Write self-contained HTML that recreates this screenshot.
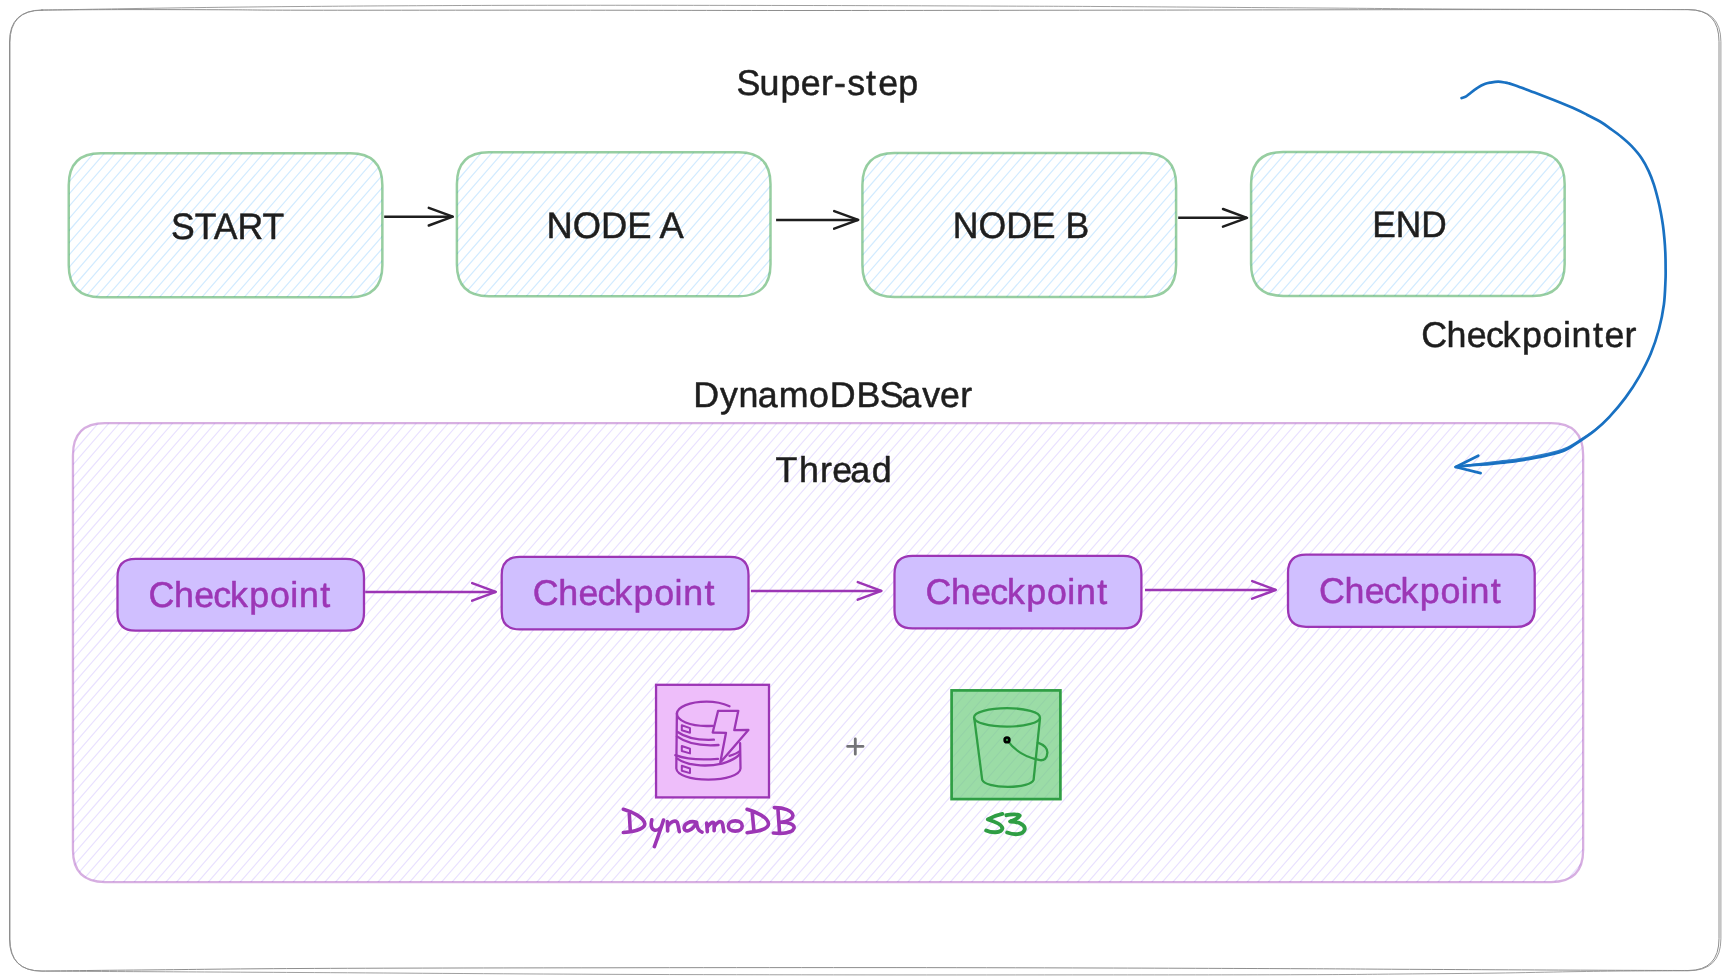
<!DOCTYPE html>
<html><head><meta charset="utf-8"><title>DynamoDBSaver checkpointer diagram</title>
<style>
html,body{margin:0;padding:0;background:#fff;}
body{width:1729px;height:980px;overflow:hidden;}
svg{display:block;will-change:transform;}
text{font-family:"Liberation Sans",sans-serif;stroke-width:0.5px;stroke-linejoin:round;text-rendering:geometricPrecision;}
</style></head><body>
<svg width="1729" height="980" viewBox="0 0 1729 980">

<rect width="1729" height="980" fill="#ffffff"/>

<g fill="none" stroke="#8e8e8e" stroke-width="1" stroke-linecap="round">
<path d="M42 10.0 C56.7 9.9 98.7 9.6 130.0 9.6 C161.3 9.6 201.7 9.7 230.0 9.8 C258.3 9.9 245.0 10.1 300.0 10.2 C355.0 10.3 476.7 10.1 560.0 10.2 C643.3 10.2 710.0 10.5 800.0 10.5 C890.0 10.5 989.3 10.3 1100.0 10.2 C1210.7 10.0 1366.0 9.7 1464.0 9.6 C1562.0 9.5 1650.7 9.6 1688.0 9.6 Q1719.0 9.6 1719.0 41.6 L1719.0 938.5 Q1719.0 970.5 1688 970.5 C1671.7 970.5 1638.0 970.4 1590.0 970.2 C1542.0 970.0 1448.3 969.5 1400.0 969.3 C1351.7 969.0 1350.0 968.9 1300.0 968.7 C1250.0 968.5 1172.5 968.2 1100.0 968.0 C1027.5 967.8 948.3 967.6 865.0 967.6 C781.7 967.6 694.2 967.6 600.0 967.8 C505.8 967.9 375.0 968.1 300.0 968.5 C225.0 968.9 193.0 969.5 150.0 969.9 C107.0 970.3 60.0 970.8 42.0 971.0 Q9.5 971.0 9.5 939.0 L9.5 42.0 Q9.5 10.0 42 10.0 Z"/>
<path d="M42 10.2 C56.7 9.9 98.7 9.1 130.0 8.6 C161.3 8.1 201.7 7.5 230.0 7.2 C258.3 6.9 271.7 6.7 300.0 6.5 C328.3 6.3 356.7 6.0 400.0 5.8 C443.3 5.6 493.3 5.3 560.0 5.3 C626.7 5.2 726.7 5.4 800.0 5.5 C873.3 5.6 950.0 5.9 1000.0 6.1 C1050.0 6.3 1047.0 6.2 1100.0 6.5 C1153.0 6.8 1257.3 7.6 1318.0 8.0 C1378.7 8.4 1402.3 8.8 1464.0 9.1 C1525.7 9.4 1650.7 9.5 1688.0 9.6 Q1720.9 9.6 1720.9 41.6 L1720.9 938.8 Q1720.9 970.8 1688 970.8 C1678.0 970.8 1647.5 970.9 1628.0 971.0 C1608.5 971.1 1593.2 971.4 1571.0 971.7 C1548.8 972.1 1523.5 972.7 1495.0 973.1 C1466.5 973.5 1432.5 973.7 1400.0 974.0 C1367.5 974.3 1350.0 974.6 1300.0 974.7 C1250.0 974.9 1172.5 974.9 1100.0 974.9 C1027.5 974.9 948.3 975.0 865.0 974.9 C781.7 974.8 694.2 974.7 600.0 974.3 C505.8 973.9 375.0 972.9 300.0 972.5 C225.0 972.1 193.0 971.9 150.0 971.7 C107.0 971.5 60.0 971.3 42.0 971.2 Q10.0 971.2 10.0 939.2 L10.0 42.2 Q10.0 10.2 42 10.2 Z" opacity="0.85"/>
</g>
<clipPath id="c1"><path d="M100.75 153.25 L350.35 153.25 Q382.35 153.25 382.35 185.25 L382.35 265.25 Q382.35 297.25 350.35 297.25 L100.75 297.25 Q68.75 297.25 68.75 265.25 L68.75 185.25 Q68.75 153.25 100.75 153.25 Z"/></clipPath><path d="M68.8 157.8L72.7 153.2M68.8 170.0L83.3 153.2M68.8 182.2L93.9 153.2M68.8 194.4L104.5 153.2M68.8 206.6L115.1 153.2M68.8 218.8L125.7 153.2M68.8 231.0L136.3 153.2M68.8 243.2L146.9 153.2M68.8 255.4L157.5 153.2M68.8 267.6L168.1 153.2M68.8 279.8L178.7 153.2M68.8 292.0L189.3 153.2M74.8 297.2L199.9 153.2M85.4 297.2L210.5 153.2M96.0 297.2L221.1 153.2M106.6 297.2L231.7 153.2M117.2 297.2L242.3 153.2M127.8 297.2L252.9 153.2M138.4 297.2L263.5 153.2M149.0 297.2L274.1 153.2M159.6 297.2L284.7 153.2M170.2 297.2L295.3 153.2M180.8 297.2L305.9 153.2M191.4 297.2L316.5 153.2M202.0 297.2L327.1 153.2M212.6 297.2L337.7 153.2M223.2 297.2L348.3 153.2M233.8 297.2L358.9 153.2M244.4 297.2L369.5 153.2M255.0 297.2L380.1 153.2M265.6 297.2L382.4 162.9M276.2 297.2L382.4 175.1M286.8 297.2L382.4 187.3M297.4 297.2L382.4 199.5M308.0 297.2L382.4 211.7M318.6 297.2L382.4 223.9M329.2 297.2L382.4 236.1M339.8 297.2L382.4 248.3M350.4 297.2L382.4 260.5M361.0 297.2L382.4 272.6M371.6 297.2L382.4 284.8M382.2 297.2L382.4 297.0" clip-path="url(#c1)" fill="none" stroke="#d2ebff" stroke-width="1.25"/>
<path d="M100.75 153.25 L350.35 153.25 Q382.35 153.25 382.35 185.25 L382.35 265.25 Q382.35 297.25 350.35 297.25 L100.75 297.25 Q68.75 297.25 68.75 265.25 L68.75 185.25 Q68.75 153.25 100.75 153.25 Z" fill="none" stroke="#2f9e44" stroke-opacity="0.5" stroke-width="2.5"/>
<clipPath id="c2"><path d="M488.9 152.25 L738.5 152.25 Q770.5 152.25 770.5 184.25 L770.5 264.25 Q770.5 296.25 738.5 296.25 L488.9 296.25 Q456.9 296.25 456.9 264.25 L456.9 184.25 Q456.9 152.25 488.9 152.25 Z"/></clipPath><path d="M456.9 156.6L460.7 152.2M456.9 168.8L471.3 152.2M456.9 181.0L481.9 152.2M456.9 193.2L492.5 152.2M456.9 205.4L503.1 152.2M456.9 217.6L513.7 152.2M456.9 229.8L524.3 152.2M456.9 241.9L534.9 152.2M456.9 254.1L545.5 152.2M456.9 266.3L556.1 152.2M456.9 278.5L566.7 152.2M456.9 290.7L577.3 152.2M462.7 296.2L587.9 152.2M473.3 296.2L598.5 152.2M483.9 296.2L609.1 152.2M494.5 296.2L619.7 152.2M505.1 296.2L630.3 152.2M515.7 296.2L640.9 152.2M526.3 296.2L651.5 152.2M536.9 296.2L662.1 152.2M547.5 296.2L672.7 152.2M558.1 296.2L683.3 152.2M568.7 296.2L693.9 152.2M579.3 296.2L704.5 152.2M589.9 296.2L715.1 152.2M600.5 296.2L725.7 152.2M611.1 296.2L736.3 152.2M621.7 296.2L746.9 152.2M632.3 296.2L757.5 152.2M642.9 296.2L768.1 152.2M653.5 296.2L770.5 161.7M664.1 296.2L770.5 173.9M674.7 296.2L770.5 186.0M685.3 296.2L770.5 198.2M695.9 296.2L770.5 210.4M706.5 296.2L770.5 222.6M717.1 296.2L770.5 234.8M727.7 296.2L770.5 247.0M738.3 296.2L770.5 259.2M748.9 296.2L770.5 271.4M759.5 296.2L770.5 283.6M770.1 296.2L770.5 295.8" clip-path="url(#c2)" fill="none" stroke="#d2ebff" stroke-width="1.25"/>
<path d="M488.9 152.25 L738.5 152.25 Q770.5 152.25 770.5 184.25 L770.5 264.25 Q770.5 296.25 738.5 296.25 L488.9 296.25 Q456.9 296.25 456.9 264.25 L456.9 184.25 Q456.9 152.25 488.9 152.25 Z" fill="none" stroke="#2f9e44" stroke-opacity="0.5" stroke-width="2.5"/>
<clipPath id="c3"><path d="M894.4 152.9 L1144.1 152.9 Q1176.1 152.9 1176.1 184.9 L1176.1 264.9 Q1176.1 296.9 1144.1 296.9 L894.4 296.9 Q862.4 296.9 862.4 264.9 L862.4 184.9 Q862.4 152.9 894.4 152.9 Z"/></clipPath><path d="M862.4 157.7L866.6 152.9M862.4 169.9L877.2 152.9M862.4 182.1L887.8 152.9M862.4 194.3L898.4 152.9M862.4 206.5L909.0 152.9M862.4 218.7L919.6 152.9M862.4 230.9L930.2 152.9M862.4 243.1L940.8 152.9M862.4 255.3L951.4 152.9M862.4 267.5L962.0 152.9M862.4 279.7L972.6 152.9M862.4 291.9L983.2 152.9M868.6 296.9L993.8 152.9M879.2 296.9L1004.4 152.9M889.8 296.9L1015.0 152.9M900.4 296.9L1025.6 152.9M911.0 296.9L1036.2 152.9M921.6 296.9L1046.8 152.9M932.2 296.9L1057.4 152.9M942.8 296.9L1068.0 152.9M953.4 296.9L1078.6 152.9M964.0 296.9L1089.2 152.9M974.6 296.9L1099.8 152.9M985.2 296.9L1110.4 152.9M995.8 296.9L1121.0 152.9M1006.4 296.9L1131.6 152.9M1017.0 296.9L1142.2 152.9M1027.6 296.9L1152.8 152.9M1038.2 296.9L1163.4 152.9M1048.8 296.9L1174.0 152.9M1059.4 296.9L1176.1 162.7M1070.0 296.9L1176.1 174.9M1080.6 296.9L1176.1 187.1M1091.2 296.9L1176.1 199.2M1101.8 296.9L1176.1 211.4M1112.4 296.9L1176.1 223.6M1123.0 296.9L1176.1 235.8M1133.6 296.9L1176.1 248.0M1144.2 296.9L1176.1 260.2M1154.8 296.9L1176.1 272.4M1165.4 296.9L1176.1 284.6M1176.0 296.9L1176.1 296.8" clip-path="url(#c3)" fill="none" stroke="#d2ebff" stroke-width="1.25"/>
<path d="M894.4 152.9 L1144.1 152.9 Q1176.1 152.9 1176.1 184.9 L1176.1 264.9 Q1176.1 296.9 1144.1 296.9 L894.4 296.9 Q862.4 296.9 862.4 264.9 L862.4 184.9 Q862.4 152.9 894.4 152.9 Z" fill="none" stroke="#2f9e44" stroke-opacity="0.5" stroke-width="2.5"/>
<clipPath id="c4"><path d="M1283.1 151.9 L1532.65 151.9 Q1564.65 151.9 1564.65 183.9 L1564.65 263.9 Q1564.65 295.9 1532.65 295.9 L1283.1 295.9 Q1251.1 295.9 1251.1 263.9 L1251.1 183.9 Q1251.1 151.9 1283.1 151.9 Z"/></clipPath><path d="M1251.1 156.0L1254.7 151.9M1251.1 168.2L1265.3 151.9M1251.1 180.4L1275.9 151.9M1251.1 192.6L1286.5 151.9M1251.1 204.8L1297.1 151.9M1251.1 217.0L1307.7 151.9M1251.1 229.2L1318.3 151.9M1251.1 241.4L1328.9 151.9M1251.1 253.6L1339.5 151.9M1251.1 265.8L1350.1 151.9M1251.1 278.0L1360.7 151.9M1251.1 290.2L1371.3 151.9M1256.7 295.9L1381.9 151.9M1267.3 295.9L1392.5 151.9M1277.9 295.9L1403.1 151.9M1288.5 295.9L1413.7 151.9M1299.1 295.9L1424.3 151.9M1309.7 295.9L1434.9 151.9M1320.3 295.9L1445.5 151.9M1330.9 295.9L1456.1 151.9M1341.5 295.9L1466.7 151.9M1352.1 295.9L1477.3 151.9M1362.7 295.9L1487.9 151.9M1373.3 295.9L1498.5 151.9M1383.9 295.9L1509.1 151.9M1394.5 295.9L1519.7 151.9M1405.1 295.9L1530.3 151.9M1415.7 295.9L1540.9 151.9M1426.3 295.9L1551.5 151.9M1436.9 295.9L1562.1 151.9M1447.5 295.9L1564.7 161.2M1458.1 295.9L1564.7 173.4M1468.7 295.9L1564.7 185.6M1479.3 295.9L1564.7 197.7M1489.9 295.9L1564.7 209.9M1500.5 295.9L1564.7 222.1M1511.1 295.9L1564.7 234.3M1521.7 295.9L1564.7 246.5M1532.3 295.9L1564.7 258.7M1542.9 295.9L1564.7 270.9M1553.5 295.9L1564.7 283.1M1564.1 295.9L1564.7 295.3" clip-path="url(#c4)" fill="none" stroke="#d2ebff" stroke-width="1.25"/>
<path d="M1283.1 151.9 L1532.65 151.9 Q1564.65 151.9 1564.65 183.9 L1564.65 263.9 Q1564.65 295.9 1532.65 295.9 L1283.1 295.9 Q1251.1 295.9 1251.1 263.9 L1251.1 183.9 Q1251.1 151.9 1283.1 151.9 Z" fill="none" stroke="#2f9e44" stroke-opacity="0.5" stroke-width="2.5"/>
<g fill="none" stroke="#1e1e1e" stroke-width="2.5" stroke-linecap="round" stroke-linejoin="round"><path d="M384.2 216.7 L452.8 216.7" stroke-linecap="butt"/><path d="M428.8 207.89999999999998 L452.8 216.7 L428.8 225.5"/></g>
<g fill="none" stroke="#1e1e1e" stroke-width="2.5" stroke-linecap="round" stroke-linejoin="round"><path d="M776.1 219.9 L858.2 219.9" stroke-linecap="butt"/><path d="M834.2 211.1 L858.2 219.9 L834.2 228.70000000000002"/></g>
<g fill="none" stroke="#1e1e1e" stroke-width="2.5" stroke-linecap="round" stroke-linejoin="round"><path d="M1178.2 217.8 L1247.0 217.8" stroke-linecap="butt"/><path d="M1223.0 209.0 L1247.0 217.8 L1223.0 226.60000000000002"/></g>
<clipPath id="c5"><path d="M104.95 423.2 L1551.15 423.2 Q1583.15 423.2 1583.15 455.2 L1583.15 850.1 Q1583.15 882.1 1551.15 882.1 L104.95 882.1 Q72.95 882.1 72.95 850.1 L72.95 455.2 Q72.95 423.2 104.95 423.2 Z"/></clipPath><path d="M73.0 428.1L77.2 423.2M73.0 440.3L87.8 423.2M73.0 452.5L98.4 423.2M73.0 464.7L109.0 423.2M73.0 476.8L119.6 423.2M73.0 489.0L130.2 423.2M73.0 501.2L140.8 423.2M73.0 513.4L151.4 423.2M73.0 525.6L162.0 423.2M73.0 537.8L172.6 423.2M73.0 550.0L183.2 423.2M73.0 562.2L193.8 423.2M73.0 574.4L204.4 423.2M73.0 586.6L215.0 423.2M73.0 598.8L225.6 423.2M73.0 611.0L236.2 423.2M73.0 623.2L246.8 423.2M73.0 635.4L257.4 423.2M73.0 647.6L268.0 423.2M73.0 659.8L278.6 423.2M73.0 672.0L289.2 423.2M73.0 684.1L299.8 423.2M73.0 696.3L310.4 423.2M73.0 708.5L321.0 423.2M73.0 720.7L331.6 423.2M73.0 732.9L342.2 423.2M73.0 745.1L352.8 423.2M73.0 757.3L363.4 423.2M73.0 769.5L374.0 423.2M73.0 781.7L384.6 423.2M73.0 793.9L395.2 423.2M73.0 806.1L405.8 423.2M73.0 818.3L416.4 423.2M73.0 830.5L427.0 423.2M73.0 842.7L437.6 423.2M73.0 854.9L448.2 423.2M73.0 867.1L458.8 423.2M73.0 879.3L469.4 423.2M81.1 882.1L480.0 423.2M91.7 882.1L490.6 423.2M102.3 882.1L501.2 423.2M112.9 882.1L511.8 423.2M123.5 882.1L522.4 423.2M134.1 882.1L533.0 423.2M144.7 882.1L543.6 423.2M155.3 882.1L554.2 423.2M165.9 882.1L564.8 423.2M176.5 882.1L575.4 423.2M187.1 882.1L586.0 423.2M197.7 882.1L596.6 423.2M208.3 882.1L607.2 423.2M218.9 882.1L617.8 423.2M229.5 882.1L628.4 423.2M240.1 882.1L639.0 423.2M250.7 882.1L649.6 423.2M261.3 882.1L660.2 423.2M271.9 882.1L670.8 423.2M282.5 882.1L681.4 423.2M293.1 882.1L692.0 423.2M303.7 882.1L702.6 423.2M314.3 882.1L713.2 423.2M324.9 882.1L723.8 423.2M335.5 882.1L734.4 423.2M346.1 882.1L745.0 423.2M356.7 882.1L755.6 423.2M367.3 882.1L766.2 423.2M377.9 882.1L776.8 423.2M388.5 882.1L787.4 423.2M399.1 882.1L798.0 423.2M409.7 882.1L808.6 423.2M420.3 882.1L819.2 423.2M430.9 882.1L829.8 423.2M441.5 882.1L840.4 423.2M452.1 882.1L851.0 423.2M462.7 882.1L861.6 423.2M473.3 882.1L872.2 423.2M483.9 882.1L882.8 423.2M494.5 882.1L893.4 423.2M505.1 882.1L904.0 423.2M515.7 882.1L914.6 423.2M526.3 882.1L925.2 423.2M536.9 882.1L935.8 423.2M547.5 882.1L946.4 423.2M558.1 882.1L957.0 423.2M568.7 882.1L967.6 423.2M579.3 882.1L978.2 423.2M589.9 882.1L988.8 423.2M600.5 882.1L999.4 423.2M611.1 882.1L1010.0 423.2M621.7 882.1L1020.6 423.2M632.3 882.1L1031.2 423.2M642.9 882.1L1041.8 423.2M653.5 882.1L1052.4 423.2M664.1 882.1L1063.0 423.2M674.7 882.1L1073.6 423.2M685.3 882.1L1084.2 423.2M695.9 882.1L1094.8 423.2M706.5 882.1L1105.4 423.2M717.1 882.1L1116.0 423.2M727.7 882.1L1126.6 423.2M738.3 882.1L1137.2 423.2M748.9 882.1L1147.8 423.2M759.5 882.1L1158.4 423.2M770.1 882.1L1169.0 423.2M780.7 882.1L1179.6 423.2M791.3 882.1L1190.2 423.2M801.9 882.1L1200.8 423.2M812.5 882.1L1211.4 423.2M823.1 882.1L1222.0 423.2M833.7 882.1L1232.6 423.2M844.3 882.1L1243.2 423.2M854.9 882.1L1253.8 423.2M865.5 882.1L1264.4 423.2M876.1 882.1L1275.0 423.2M886.7 882.1L1285.6 423.2M897.3 882.1L1296.2 423.2M907.9 882.1L1306.8 423.2M918.5 882.1L1317.4 423.2M929.1 882.1L1328.0 423.2M939.7 882.1L1338.6 423.2M950.3 882.1L1349.2 423.2M960.9 882.1L1359.8 423.2M971.5 882.1L1370.4 423.2M982.1 882.1L1381.0 423.2M992.7 882.1L1391.6 423.2M1003.3 882.1L1402.2 423.2M1013.9 882.1L1412.8 423.2M1024.5 882.1L1423.4 423.2M1035.1 882.1L1434.0 423.2M1045.7 882.1L1444.6 423.2M1056.3 882.1L1455.2 423.2M1066.9 882.1L1465.8 423.2M1077.5 882.1L1476.4 423.2M1088.1 882.1L1487.0 423.2M1098.7 882.1L1497.6 423.2M1109.3 882.1L1508.2 423.2M1119.9 882.1L1518.8 423.2M1130.5 882.1L1529.4 423.2M1141.1 882.1L1540.0 423.2M1151.7 882.1L1550.6 423.2M1162.3 882.1L1561.2 423.2M1172.9 882.1L1571.8 423.2M1183.5 882.1L1582.4 423.2M1194.1 882.1L1583.2 434.5M1204.7 882.1L1583.2 446.7M1215.3 882.1L1583.2 458.9M1225.9 882.1L1583.2 471.1M1236.5 882.1L1583.2 483.3M1247.1 882.1L1583.2 495.5M1257.7 882.1L1583.2 507.7M1268.3 882.1L1583.2 519.9M1278.9 882.1L1583.2 532.1M1289.5 882.1L1583.2 544.3M1300.1 882.1L1583.2 556.5M1310.7 882.1L1583.2 568.7M1321.3 882.1L1583.2 580.9M1331.9 882.1L1583.2 593.1M1342.5 882.1L1583.2 605.2M1353.1 882.1L1583.2 617.4M1363.7 882.1L1583.2 629.6M1374.3 882.1L1583.2 641.8M1384.9 882.1L1583.2 654.0M1395.5 882.1L1583.2 666.2M1406.1 882.1L1583.2 678.4M1416.7 882.1L1583.2 690.6M1427.3 882.1L1583.2 702.8M1437.9 882.1L1583.2 715.0M1448.5 882.1L1583.2 727.2M1459.1 882.1L1583.2 739.4M1469.7 882.1L1583.2 751.6M1480.3 882.1L1583.2 763.8M1490.9 882.1L1583.2 776.0M1501.5 882.1L1583.2 788.2M1512.1 882.1L1583.2 800.4M1522.7 882.1L1583.2 812.5M1533.3 882.1L1583.2 824.7M1543.9 882.1L1583.2 836.9M1554.5 882.1L1583.2 849.1M1565.1 882.1L1583.2 861.3M1575.7 882.1L1583.2 873.5" clip-path="url(#c5)" fill="none" stroke="#e9e1ff" stroke-width="1.2"/>
<path d="M104.95 423.2 L1551.15 423.2 Q1583.15 423.2 1583.15 455.2 L1583.15 850.1 Q1583.15 882.1 1551.15 882.1 L104.95 882.1 Q72.95 882.1 72.95 850.1 L72.95 455.2 Q72.95 423.2 104.95 423.2 Z" fill="none" stroke="#9c36b5" stroke-opacity="0.4" stroke-width="2.3"/>
<path d="M135.5 558.9 L346.0 558.9 Q364.0 558.9 364.0 576.9 L364.0 612.7 Q364.0 630.7 346.0 630.7 L135.5 630.7 Q117.5 630.7 117.5 612.7 L117.5 576.9 Q117.5 558.9 135.5 558.9 Z" fill="#d0bfff" stroke="#9c36b5" stroke-width="2.3"/>
<path d="M519.7 556.9 L730.5 556.9 Q748.5 556.9 748.5 574.9 L748.5 611.4 Q748.5 629.4 730.5 629.4 L519.7 629.4 Q501.7 629.4 501.7 611.4 L501.7 574.9 Q501.7 556.9 519.7 556.9 Z" fill="#d0bfff" stroke="#9c36b5" stroke-width="2.3"/>
<path d="M912.5 555.9 L1123.4 555.9 Q1141.4 555.9 1141.4 573.9 L1141.4 610.4 Q1141.4 628.4 1123.4 628.4 L912.5 628.4 Q894.5 628.4 894.5 610.4 L894.5 573.9 Q894.5 555.9 912.5 555.9 Z" fill="#d0bfff" stroke="#9c36b5" stroke-width="2.3"/>
<path d="M1306.0 554.7 L1516.7 554.7 Q1534.7 554.7 1534.7 572.7 L1534.7 608.8 Q1534.7 626.8 1516.7 626.8 L1306.0 626.8 Q1288.0 626.8 1288.0 608.8 L1288.0 572.7 Q1288.0 554.7 1306.0 554.7 Z" fill="#d0bfff" stroke="#9c36b5" stroke-width="2.3"/>
<g fill="none" stroke="#9c36b5" stroke-width="2.5" stroke-linecap="round" stroke-linejoin="round"><path d="M365.2 591.9 L495.8 591.9" stroke-linecap="butt"/><path d="M472.2 583.1 L495.8 591.9 L472.2 600.6999999999999"/></g>
<g fill="none" stroke="#9c36b5" stroke-width="2.5" stroke-linecap="round" stroke-linejoin="round"><path d="M750.9 590.9 L881.4 590.9" stroke-linecap="butt"/><path d="M857.8 582.1 L881.4 590.9 L857.8 599.6999999999999"/></g>
<g fill="none" stroke="#9c36b5" stroke-width="2.5" stroke-linecap="round" stroke-linejoin="round"><path d="M1145.0 589.9 L1275.8 589.9" stroke-linecap="butt"/><path d="M1252.2 581.1 L1275.8 589.9 L1252.2 598.6999999999999"/></g>
<g fill="none" stroke="#1971c2" stroke-width="2.7" stroke-linecap="round" stroke-linejoin="round">
<path d="M1461.6 98.0 C1462.4 97.7 1464.7 97.3 1466.2 96.4 C1467.7 95.5 1468.9 94.2 1470.8 92.7 C1472.7 91.2 1475.5 89.0 1477.8 87.6 C1480.1 86.1 1482.6 84.8 1484.7 84.0 C1486.8 83.2 1488.2 83.0 1490.5 82.6 C1492.8 82.2 1495.7 81.7 1498.2 81.7 C1500.7 81.7 1503.8 82.3 1505.6 82.6 C1507.4 82.9 1507.6 83.0 1509.1 83.4 C1510.6 83.9 1512.7 84.6 1514.8 85.3 C1516.9 86.0 1518.5 86.6 1521.8 87.8 C1525.1 89.0 1530.2 91.0 1534.5 92.6 C1538.8 94.2 1543.0 95.8 1547.3 97.4 C1551.5 99.0 1555.8 100.7 1560.0 102.4 C1564.2 104.1 1568.5 105.9 1572.7 107.8 C1576.9 109.7 1580.9 111.6 1585.4 113.9 C1590.0 116.2 1595.7 119.0 1600.0 121.5 C1604.3 124.0 1607.5 126.6 1611.0 129.1 C1614.5 131.6 1617.8 133.9 1621.2 136.7 C1624.6 139.5 1628.0 142.3 1631.4 145.9 C1634.8 149.5 1638.7 153.9 1641.6 158.2 C1644.5 162.4 1646.8 167.0 1648.8 171.4 C1650.8 175.8 1652.4 180.0 1653.9 184.7 C1655.4 189.4 1656.8 194.8 1658.0 199.5 C1659.2 204.2 1660.1 208.7 1660.9 212.9 C1661.7 217.2 1662.3 220.7 1662.9 225.0 C1663.5 229.3 1664.0 234.2 1664.4 238.7 C1664.8 243.2 1665.1 247.4 1665.3 252.0 C1665.5 256.6 1665.6 261.6 1665.6 266.3 C1665.6 271.0 1665.8 273.6 1665.5 280.0 C1665.2 286.4 1665.0 296.3 1663.9 304.5 C1662.8 312.7 1661.2 320.8 1659.0 329.0 C1656.8 337.2 1654.1 345.6 1650.8 353.5 C1647.5 361.4 1643.6 368.9 1639.4 376.3 C1635.2 383.7 1630.5 390.8 1625.5 397.6 C1620.5 404.4 1614.3 411.6 1609.2 417.1 C1604.1 422.6 1599.6 426.6 1594.8 430.5 C1590.0 434.4 1585.2 437.6 1580.3 440.8 C1575.4 444.0 1571.0 447.4 1565.4 449.9 C1559.8 452.3 1553.1 453.9 1546.9 455.5 C1540.7 457.1 1534.5 458.1 1528.3 459.2 C1522.1 460.3 1516.0 461.1 1509.8 461.9 C1503.6 462.7 1497.5 463.2 1491.3 463.8 C1485.1 464.4 1478.7 464.7 1472.8 465.2 C1466.9 465.7 1458.5 466.7 1455.7 467.0"/>
<path d="M1609.2 417.1 C1606.8 419.3 1599.7 426.3 1594.8 430.1 C1589.9 433.9 1585.0 437.0 1580.0 440.1 C1575.0 443.2 1570.5 446.3 1564.9 448.6 C1559.3 450.9 1552.6 452.5 1546.4 454.0 C1540.2 455.5 1534.1 456.6 1527.9 457.6 C1521.8 458.7 1515.6 459.5 1509.5 460.3 C1503.4 461.1 1497.2 461.8 1491.1 462.5 C1485.0 463.2 1478.7 463.9 1472.8 464.6 C1466.9 465.4 1458.5 466.6 1455.7 467.0" stroke-width="1.9" opacity="0.9"/>
<path d="M1478.3 455.7 L1455.7 467 L1480.6 473.1"/>
</g>
<rect x="656.05" y="684.8" width="112.95" height="112.6" fill="#eebefa" stroke="#9c36b5" stroke-width="2.3"/>
<g fill="none" stroke="#9c36b5" stroke-width="2.3" stroke-linecap="round" stroke-linejoin="round">
<path d="M729.5 706.2 C722 702.8 714 701.6 706.6 701.6 C690 701.6 677 707 676.9 713.8 C677 720.8 690 725.8 706.6 726 C708.8 726 711 725.9 713 725.8"/>
<path d="M676.9 713 L676.3 768.5 C677 775 690 779.6 708.4 779.6 C726 779.6 740 775 740.5 768.5 L740.1 743.2"/>
<path d="M677.2 731.7 C684 736.5 696 740.6 713.9 739.7"/>
<path d="M676.9 736.4 C684 741.6 698 746.4 718.5 745"/>
<path d="M675.3 755.2 C684 758.4 700 760.4 718 758.8"/>
<path d="M676.9 758.4 C686 765 704 767.6 722 763.6 C730 761.6 738 757 739.8 753.6"/>
<path d="M729.5 755.8 C734 754.6 738 752.6 739.8 751"/>
<path d="M681.8 725.3 L690 728.0999999999999 L690 732.6999999999999 L681.8 730.3 Z" stroke-width="2"/>
<path d="M681.8 746.0 L690 748.8 L690 753.4 L681.8 751.0 Z" stroke-width="2"/>
<path d="M681.8 765.7 L690 768.5 L690 773.1 L681.8 770.7 Z" stroke-width="2"/>
<path d="M718.1 710.8 L738.3 710.8 L734.3 730.1 L748.4 729.9 L720.3 762.5 L726 732.8 L712.7 732.5 Z" fill="#eebefa"/>
</g>
<rect x="951.6" y="690.4" width="108.8" height="108.7" fill="#70cd80" fill-opacity="0.7" stroke="#2f9e44" stroke-width="2.7"/>
<g fill="none" stroke="#2f9e44" stroke-width="2.3" stroke-linecap="round" stroke-linejoin="round">
<ellipse cx="1007" cy="717.4" rx="33" ry="9.2"/>
<path d="M974.3 718.4 L982.2 779.9 C984 784 994 786.8 1007.9 786.8 C1022 786.8 1032 784 1033.6 779.9 L1040 718.4"/>
<path d="M1007 739.9 C1014 750 1026 757.6 1040.1 760.2 C1044 760.6 1047 758.6 1047.4 752.6 C1047.4 748 1043 744.6 1037.8 742.7"/>
</g>
<circle cx="1007" cy="739.9" r="3.7" fill="#000"/><circle cx="1007" cy="739.9" r="1.1" fill="#2f9e44"/>
<path d="M847.6 746.4 H863 M855.3 738.9 V754.2" stroke="#737377" stroke-width="2.8" stroke-linecap="round" fill="none"/>
<path d="M629.2 811.9 L630.3 830.9 M623.4 809.3 C632.4 811.9 643.9 817.4 644.8 823.7 C645.1 828.9 634.1 831.5 623.4 832.5 M651.8 819.8 C650.6 824.9 651.1 828.9 654.3 830.1 C656.6 830.7 658.7 829.8 660.4 827.8 M663.5 820.1 C661.3 827.8 657.5 837.6 654.4 846.6 M667.3 821.5 L667.7 830.9 M667.7 826.3 C669.9 822.3 675.2 819.4 677.2 822.3 C678.3 824.9 678.6 828.3 679.3 831.7 M696.3 822.3 C690.2 820.2 683.8 823.7 684.1 828.3 C685.0 833.0 692.5 831.2 696.6 822.3 C696.8 826.6 698.3 830.7 702.0 832.1 M706.7 823.0 L707.3 831.7 M707.3 827.2 C709.3 823.7 712.4 821.4 713.8 822.8 C714.5 824.9 714.2 827.8 714.1 830.7 M714.2 826.9 C716.2 823.1 720.0 820.2 722.0 822.6 C723.1 824.9 723.1 828.3 723.8 831.7 M735.3 820.9 C726.0 820.9 726.0 831.1 735.3 831.1 C744.5 831.1 744.5 820.9 735.3 820.9 Z M752.2 812.3 L754.0 831.7 M747.1 809.3 C756.7 811.9 767.7 817.4 768.5 823.7 C768.8 828.9 757.8 831.7 747.1 832.7 M777.9 808.7 L779.6 832.9 M774.3 807.6 C783.3 807.5 792.5 810.4 793.0 815.6 C792.5 819.7 785.6 821.5 781.0 822.3 C789.1 822.3 794.9 824.3 794.0 828.3 C792.5 833.0 782.1 833.8 773.3 833.0" fill="none" stroke="#9c36b5" stroke-width="3.6" stroke-linecap="round" stroke-linejoin="round"/>
<path d="M1002.4 813.9 C997.1 814.9 991.2 817.5 987.9 819.5 C994.5 821.5 1002.4 824.8 1002.4 828.5 C1001.1 833.5 991.2 832.8 986.2 830.5 M1006.4 815.2 C1011.7 813.9 1018.4 814.2 1019.7 815.6 C1018.4 818.2 1013.1 820.5 1010.1 821.5 C1018.4 821.5 1025.6 824.8 1024.7 829.5 C1023.0 835.5 1013.1 834.8 1007.2 832.5" fill="none" stroke="#2f9e44" stroke-width="3.9" stroke-linecap="round" stroke-linejoin="round"/>
<text id="t_start" x="171.05" y="239" font-size="36.8" fill="#1e1e1e" stroke="#1e1e1e" textLength="113.28" lengthAdjust="spacingAndGlyphs">START</text>
<text id="t_nodea" x="546.46" y="238" font-size="36.8" fill="#1e1e1e" stroke="#1e1e1e" textLength="137.44" lengthAdjust="spacingAndGlyphs">NODE A</text>
<text id="t_nodeb" x="952.71" y="238" font-size="36.8" fill="#1e1e1e" stroke="#1e1e1e" textLength="136.60" lengthAdjust="spacingAndGlyphs">NODE B</text>
<text id="t_end" x="1372.18" y="237" font-size="36.8" fill="#1e1e1e" stroke="#1e1e1e" textLength="74.49" lengthAdjust="spacingAndGlyphs">END</text>
<text id="t_super" x="736.57 759.57 780.49 800.78 820.90 833.94 847.25 865.99 878.28 898.34" y="95" font-size="35.8" fill="#1e1e1e" stroke="#1e1e1e">Super-step</text>
<text id="t_cpr" x="1421.20 1446.57 1466.78 1485.96 1502.62 1521.94 1542.59 1562.88 1571.62 1592.89 1604.38 1624.60" y="347" font-size="35.8" fill="#1e1e1e" stroke="#1e1e1e">Checkpointer</text>
<text id="t_saver" x="693.16 719.99 738.57 757.68 778.68 809.09 829.66 856.39 879.72 901.28 922.15 939.93 960.30" y="407" font-size="35.8" fill="#1e1e1e" stroke="#1e1e1e">DynamoDBSaver</text>
<text id="t_thread" x="775.42 799.07 820.10 832.28 850.28 871.70" y="482" font-size="35.8" fill="#1e1e1e" stroke="#1e1e1e">Thread</text>
<text id="t_cp1" x="148.60 173.97 194.18 213.36 230.02 249.34 269.99 290.28 299.02 320.29" y="607" font-size="35.8" fill="#9c36b5" stroke="#9c36b5">Checkpoint</text>
<text id="t_cp2" x="532.80 558.17 578.38 597.56 614.22 633.54 654.19 674.48 683.22 704.49" y="605" font-size="35.8" fill="#9c36b5" stroke="#9c36b5">Checkpoint</text>
<text id="t_cp3" x="925.60 950.97 971.18 990.36 1007.02 1026.34 1046.99 1067.28 1076.02 1097.29" y="604" font-size="35.8" fill="#9c36b5" stroke="#9c36b5">Checkpoint</text>
<text id="t_cp4" x="1319.10 1344.47 1364.68 1383.86 1400.52 1419.84 1440.49 1460.78 1469.52 1490.79" y="603" font-size="35.8" fill="#9c36b5" stroke="#9c36b5">Checkpoint</text>
</svg></body></html>
